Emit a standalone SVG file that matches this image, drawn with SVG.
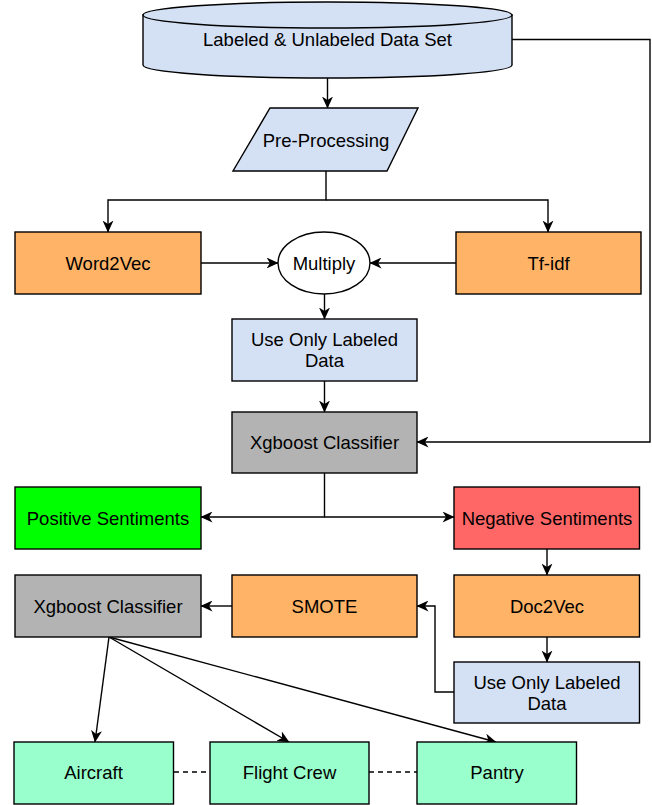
<svg xmlns="http://www.w3.org/2000/svg" width="652" height="805" viewBox="0 0 652 805">
<style>
.n{stroke:#000;stroke-width:1.4}
.t{font-family:"Liberation Sans",Arial,sans-serif;font-size:18.5px;fill:#000;text-anchor:middle}
.c{fill:none;stroke:#000;stroke-width:1.4}
.blue{fill:#D4E1F5}.orange{fill:#FFB366}.gray{fill:#B3B3B3}.green{fill:#00FF00}.red{fill:#FF6666}.mint{fill:#99FFCC}.white{fill:#FFFFFF}
</style>
<defs>
<marker id="a" markerUnits="userSpaceOnUse" viewBox="0 0 12 11" refX="11.5" refY="5.5" markerWidth="12" markerHeight="11" orient="auto">
<path d="M0,0 L12,5.5 L0,11 L3.5,5.5 Z" fill="#000"/>
</marker>
</defs>
<rect width="652" height="805" fill="#fff"/>
<g id="connectors">
<path class="c" d="M327.5,78 V108" marker-end="url(#a)"/>
<path class="c" d="M326,171 V200 H108 V232" marker-end="url(#a)"/>
<path class="c" d="M326,200 H548 V232" marker-end="url(#a)"/>
<path class="c" d="M201,263 H278" marker-end="url(#a)"/>
<path class="c" d="M456,263 H370" marker-end="url(#a)"/>
<path class="c" d="M324.5,294 V319" marker-end="url(#a)"/>
<path class="c" d="M324.5,381 V412" marker-end="url(#a)"/>
<path class="c" d="M512,39.5 H650 V442 H417" marker-end="url(#a)"/>
<path class="c" d="M324.5,473 V517 H201" marker-end="url(#a)"/>
<path class="c" d="M324.5,517 H454" marker-end="url(#a)"/>
<path class="c" d="M547,549 V575" marker-end="url(#a)"/>
<path class="c" d="M547,637 V662" marker-end="url(#a)"/>
<path class="c" d="M454,692 H435 V606 H417" marker-end="url(#a)"/>
<path class="c" d="M232,606 H201" marker-end="url(#a)"/>
<path class="c" d="M109,637 L95,742" marker-end="url(#a)"/>
<path class="c" d="M109,637 L289,742" marker-end="url(#a)"/>
<path class="c" d="M109,637 L496,742" marker-end="url(#a)"/>
<path class="c" d="M174,772 H210" stroke-dasharray="5,4"/>
<path class="c" d="M369,772 H417" stroke-dasharray="5,4"/>
</g>
<g id="dataset">
<path class="n blue" d="M143,15 V65 A184.5,13 0 0 0 512,65 V15 Z"/>
<ellipse class="n blue" cx="327.5" cy="15" rx="184.5" ry="13"/>
<text class="t" x="327.5" y="45.5">Labeled &amp; Unlabeled Data Set</text>
</g>
<g id="preprocessing">
<polygon class="n blue" points="270,108 418,108 387,171 233,171"/>
<text class="t" x="326" y="146.5">Pre-Processing</text>
</g>
<g id="word2vec">
<rect class="n orange" x="15" y="232" width="186" height="62"/>
<text class="t" x="108" y="269.5">Word2Vec</text>
</g>
<g id="multiply">
<ellipse class="n white" cx="324" cy="263" rx="46" ry="31"/>
<text class="t" x="324" y="269.5">Multiply</text>
</g>
<g id="tfidf">
<rect class="n orange" x="456" y="232" width="185" height="62"/>
<text class="t" x="548.5" y="269.5">Tf-idf</text>
</g>
<g id="labeled1">
<rect class="n blue" x="232" y="319" width="185" height="62"/>
<text class="t" x="324.5" y="345.5">Use Only Labeled</text>
<text class="t" x="324.5" y="366.5">Data</text>
</g>
<g id="xgboost1">
<rect class="n gray" x="232" y="412" width="185" height="61"/>
<text class="t" x="324.5" y="448.5">Xgboost Classifier</text>
</g>
<g id="positive">
<rect class="n green" x="15" y="487" width="186" height="62"/>
<text class="t" x="108" y="524.5">Positive Sentiments</text>
</g>
<g id="negative">
<rect class="n red" x="454" y="487" width="185.5" height="62"/>
<text class="t" x="547" y="524.5">Negative Sentiments</text>
</g>
<g id="xgboost2">
<rect class="n gray" x="15" y="575" width="186" height="62"/>
<text class="t" x="108" y="612.5">Xgboost Classifier</text>
</g>
<g id="smote">
<rect class="n orange" x="232" y="575" width="185" height="62"/>
<text class="t" x="324.5" y="612.5">SMOTE</text>
</g>
<g id="doc2vec">
<rect class="n orange" x="454" y="575" width="185.5" height="62"/>
<text class="t" x="547" y="612.5">Doc2Vec</text>
</g>
<g id="labeled2">
<rect class="n blue" x="454" y="662" width="185.5" height="61"/>
<text class="t" x="547" y="688.5">Use Only Labeled</text>
<text class="t" x="547" y="709.5">Data</text>
</g>
<g id="aircraft">
<rect class="n mint" x="14" y="742" width="159.5" height="62"/>
<text class="t" x="93.5" y="779">Aircraft</text>
</g>
<g id="flightcrew">
<rect class="n mint" x="210" y="742" width="159" height="62"/>
<text class="t" x="289.5" y="779">Flight Crew</text>
</g>
<g id="pantry">
<rect class="n mint" x="417" y="742" width="159.5" height="62"/>
<text class="t" x="497" y="779">Pantry</text>
</g>
</svg>
